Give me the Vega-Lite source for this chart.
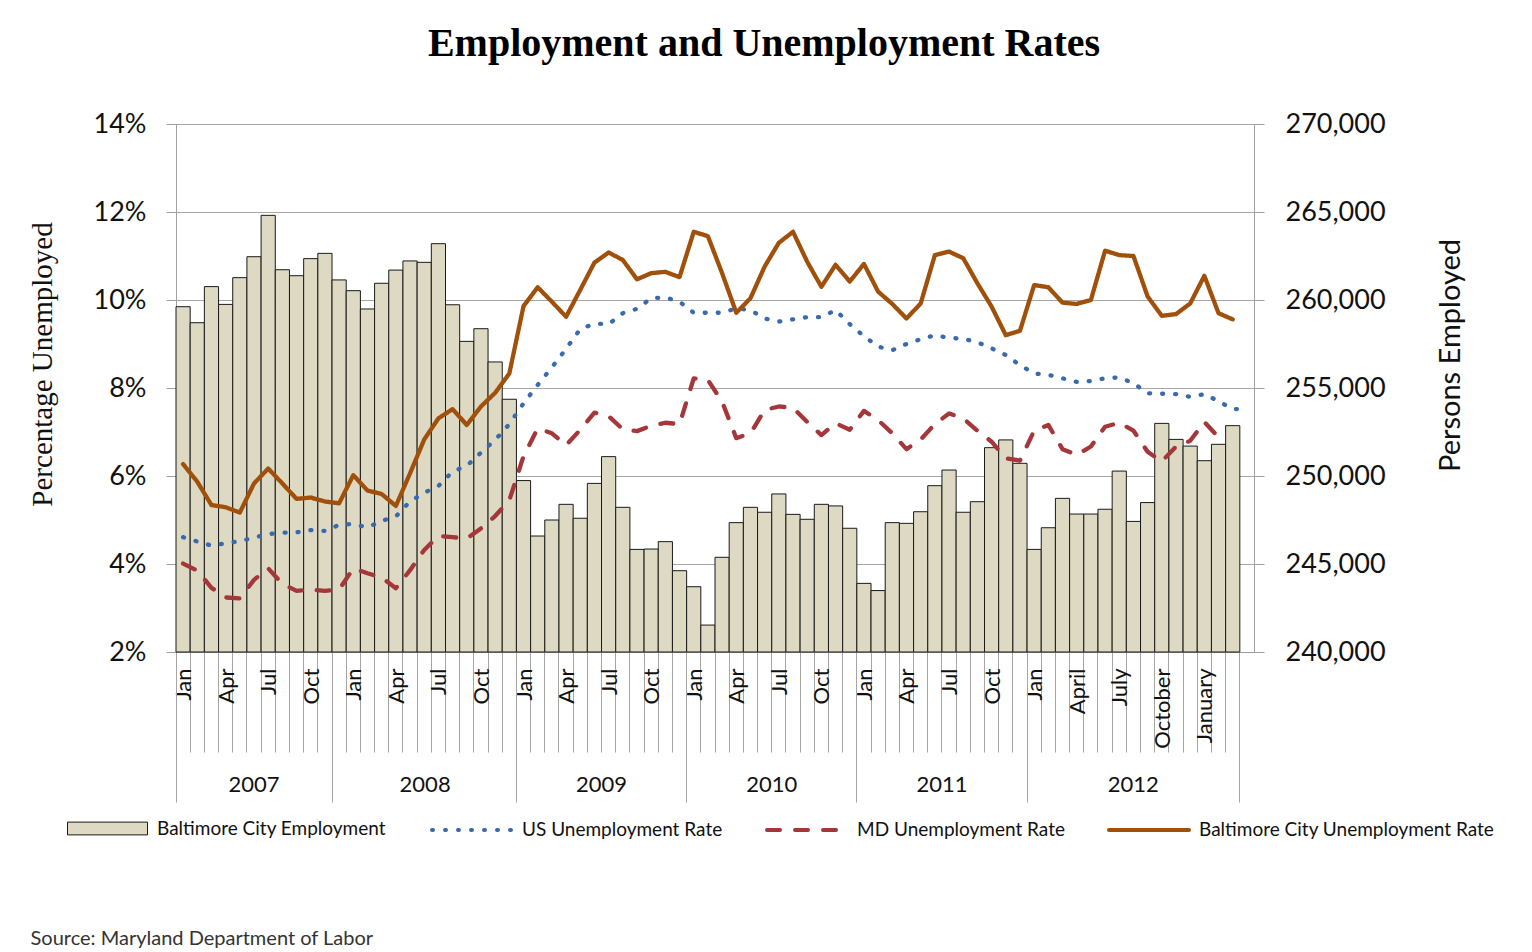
{
  "$schema": "https://vega.github.io/schema/vega-lite/v6.json",
  "width": 1078,
  "height": 528,
  "autosize": {"type": "none"},
  "padding": {"left": 176, "top": 124, "right": 278, "bottom": 300},
  "background": "white",
  "title": {"text": "Employment and Unemployment Rates", "font": "Liberation Serif", "fontSize": 40, "fontWeight": "bold", "color": "#000", "anchor": "middle", "frame": "group", "dx": 49, "offset": 46},
  "config": {"view": {"stroke": null}, "font": "Lato"},
  "data": {"values": [
    {"m":"2007-01","emp":259620,"us":4.61,"md":4.01,"balt":6.27},
    {"m":"2007-02","emp":258710,"us":4.51,"md":3.85,"balt":5.87},
    {"m":"2007-03","emp":260760,"us":4.42,"md":3.46,"balt":5.34},
    {"m":"2007-04","emp":259750,"us":4.47,"md":3.24,"balt":5.29},
    {"m":"2007-05","emp":261270,"us":4.52,"md":3.22,"balt":5.17},
    {"m":"2007-06","emp":262460,"us":4.60,"md":3.64,"balt":5.83},
    {"m":"2007-07","emp":264810,"us":4.68,"md":3.90,"balt":6.17},
    {"m":"2007-08","emp":261720,"us":4.71,"md":3.55,"balt":5.83},
    {"m":"2007-09","emp":261380,"us":4.72,"md":3.39,"balt":5.48},
    {"m":"2007-10","emp":262350,"us":4.77,"md":3.42,"balt":5.51},
    {"m":"2007-11","emp":262650,"us":4.75,"md":3.39,"balt":5.42},
    {"m":"2007-12","emp":261140,"us":4.89,"md":3.42,"balt":5.38},
    {"m":"2008-01","emp":260530,"us":4.91,"md":3.90,"balt":6.02},
    {"m":"2008-02","emp":259490,"us":4.83,"md":3.79,"balt":5.67},
    {"m":"2008-03","emp":260950,"us":4.98,"md":3.69,"balt":5.59},
    {"m":"2008-04","emp":261700,"us":5.08,"md":3.45,"balt":5.32},
    {"m":"2008-05","emp":262220,"us":5.42,"md":3.86,"balt":6.06},
    {"m":"2008-06","emp":262140,"us":5.62,"md":4.32,"balt":6.83},
    {"m":"2008-07","emp":263200,"us":5.77,"md":4.64,"balt":7.31},
    {"m":"2008-08","emp":259730,"us":6.10,"md":4.61,"balt":7.52},
    {"m":"2008-09","emp":257650,"us":6.23,"md":4.58,"balt":7.16},
    {"m":"2008-10","emp":258370,"us":6.53,"md":4.81,"balt":7.58},
    {"m":"2008-11","emp":256480,"us":6.82,"md":5.09,"balt":7.89},
    {"m":"2008-12","emp":254360,"us":7.18,"md":5.45,"balt":8.33},
    {"m":"2009-01","emp":249740,"us":7.65,"md":6.45,"balt":9.86},
    {"m":"2009-02","emp":246590,"us":8.07,"md":7.08,"balt":10.29},
    {"m":"2009-03","emp":247500,"us":8.47,"md":6.97,"balt":9.96},
    {"m":"2009-04","emp":248390,"us":8.89,"md":6.70,"balt":9.62},
    {"m":"2009-05","emp":247600,"us":9.34,"md":7.05,"balt":10.23},
    {"m":"2009-06","emp":249580,"us":9.46,"md":7.44,"balt":10.85},
    {"m":"2009-07","emp":251100,"us":9.45,"md":7.36,"balt":11.08},
    {"m":"2009-08","emp":248220,"us":9.70,"md":7.06,"balt":10.91},
    {"m":"2009-09","emp":245830,"us":9.80,"md":7.02,"balt":10.47},
    {"m":"2009-10","emp":245850,"us":10.04,"md":7.14,"balt":10.61},
    {"m":"2009-11","emp":246270,"us":10.06,"md":7.21,"balt":10.64},
    {"m":"2009-12","emp":244620,"us":9.96,"md":7.18,"balt":10.52},
    {"m":"2010-01","emp":243710,"us":9.71,"md":8.22,"balt":11.55},
    {"m":"2010-02","emp":241530,"us":9.71,"md":8.18,"balt":11.45},
    {"m":"2010-03","emp":245380,"us":9.71,"md":7.69,"balt":10.61},
    {"m":"2010-04","emp":247350,"us":9.81,"md":6.86,"balt":9.71},
    {"m":"2010-05","emp":248220,"us":9.77,"md":6.97,"balt":10.04},
    {"m":"2010-06","emp":247940,"us":9.58,"md":7.50,"balt":10.76},
    {"m":"2010-07","emp":248980,"us":9.51,"md":7.58,"balt":11.30},
    {"m":"2010-08","emp":247820,"us":9.56,"md":7.55,"balt":11.55},
    {"m":"2010-09","emp":247540,"us":9.61,"md":7.23,"balt":10.87},
    {"m":"2010-10","emp":248390,"us":9.61,"md":6.93,"balt":10.30},
    {"m":"2010-11","emp":248300,"us":9.77,"md":7.20,"balt":10.80},
    {"m":"2010-12","emp":247030,"us":9.45,"md":7.05,"balt":10.42},
    {"m":"2011-01","emp":243900,"us":9.18,"md":7.48,"balt":10.82},
    {"m":"2011-02","emp":243490,"us":8.94,"md":7.27,"balt":10.19},
    {"m":"2011-03","emp":247350,"us":8.86,"md":6.97,"balt":9.91},
    {"m":"2011-04","emp":247310,"us":9.00,"md":6.61,"balt":9.58},
    {"m":"2011-05","emp":247970,"us":9.11,"md":6.83,"balt":9.92},
    {"m":"2011-06","emp":249450,"us":9.20,"md":7.18,"balt":11.02},
    {"m":"2011-07","emp":250340,"us":9.14,"md":7.42,"balt":11.10},
    {"m":"2011-08","emp":247940,"us":9.12,"md":7.31,"balt":10.95},
    {"m":"2011-09","emp":248540,"us":9.04,"md":7.03,"balt":10.38},
    {"m":"2011-10","emp":251610,"us":8.90,"md":6.78,"balt":9.85},
    {"m":"2011-11","emp":252050,"us":8.75,"md":6.40,"balt":9.20},
    {"m":"2011-12","emp":250720,"us":8.52,"md":6.35,"balt":9.30},
    {"m":"2012-01","emp":245830,"us":8.33,"md":7.03,"balt":10.34},
    {"m":"2012-02","emp":247060,"us":8.30,"md":7.16,"balt":10.29},
    {"m":"2012-03","emp":248730,"us":8.22,"md":6.61,"balt":9.94},
    {"m":"2012-04","emp":247840,"us":8.14,"md":6.48,"balt":9.91},
    {"m":"2012-05","emp":247840,"us":8.16,"md":6.67,"balt":10.00},
    {"m":"2012-06","emp":248110,"us":8.22,"md":7.12,"balt":11.12},
    {"m":"2012-07","emp":250280,"us":8.24,"md":7.21,"balt":11.02},
    {"m":"2012-08","emp":247420,"us":8.11,"md":7.03,"balt":11.00},
    {"m":"2012-09","emp":248490,"us":7.88,"md":6.55,"balt":10.08},
    {"m":"2012-10","emp":252990,"us":7.87,"md":6.33,"balt":9.64},
    {"m":"2012-11","emp":252080,"us":7.86,"md":6.67,"balt":9.68},
    {"m":"2012-12","emp":251700,"us":7.80,"md":6.80,"balt":9.92},
    {"m":"2013-01","emp":250870,"us":7.86,"md":7.23,"balt":10.55},
    {"m":"2013-02","emp":251800,"us":7.70,"md":6.88,"balt":9.70},
    {"m":"2013-03","emp":252860,"us":7.52,"balt":9.56},
    {"m":"2013-04","us":7.52}
  ]},
  "layer": [
    {
      "transform": [{"filter": "isValid(datum.emp)"}],
      "mark": {"type": "bar", "stroke": "#1a1a1a", "strokeWidth": 1},
      "encoding": {
        "x": {
          "field": "m", "type": "ordinal", "sort": "ascending",
          "scale": {"type": "band", "paddingInner": 0, "paddingOuter": 0},
          "axis": {
            "orient": "bottom", "title": null, "bandPosition": 0, "tickSize": 100,
            "tickColor": "#a6a6a6", "tickWidth": 1, "domainColor": "#9a9a9a",
            "labelAngle": 270, "labelFont": "Lato", "labelFontSize": 22, "labelColor": "#111",
            "labelOffset": 1, "labelPadding": -84, "labelOverlap": false, "grid": false,
            "labelExpr": "(toNumber(slice(datum.value,5,7))-1)%3 != 0 ? '' : (slice(datum.value,0,4)=='2013' ? (slice(datum.value,5,7)=='01' ? 'January' : '') : (slice(datum.value,0,4)=='2012' ? ['Jan','April','July','October'] : ['Jan','Apr','Jul','Oct'])[(toNumber(slice(datum.value,5,7))-1)/3])"
          }
        },
        "y": {
          "field": "emp", "type": "quantitative",
          "scale": {"domain": [240000, 270000], "zero": false, "nice": false},
          "axis": {
            "orient": "right", "values": [240000, 245000, 250000, 255000, 260000, 265000, 270000],
            "labelExpr": "format(datum.value, ',')", "grid": false, "tickSize": 10, "tickColor": "#a0a0a0", "domainColor": "#a0a0a0",
            "labelFont": "Lato", "labelFontSize": 27, "labelColor": "#111", "labelPadding": 21,
            "title": "Persons Employed", "titleFont": "Lato", "titleFontSize": 29, "titleFontWeight": "normal",
            "titleColor": "#111", "titleAngle": 270, "titleX": 196, "titleY": 231, "titleAlign": "center", "titleBaseline": "middle"
          }
        },
        "y2": {"datum": 240000},
        "fill": {
          "datum": "Baltimore City Employment",
          "scale": {"range": ["#DDD9C3"]},
          "legend": {
            "orient": "none", "legendX": -109, "legendY": 664, "title": null,
            "symbolType": "M-1,-0.16H1V0.16H-1Z", "symbolSize": 6400, "symbolStrokeColor": "#1a1a1a", "symbolStrokeWidth": 1,
            "labelFont": "Lato", "labelFontSize": 19, "labelColor": "#111", "labelOffset": 9, "labelLimit": 500, "padding": 0
          }
        }
      }
    },
    {
      "transform": [{"fold": ["us", "md", "balt"], "as": ["s", "r"]}, {"filter": "isValid(datum.r)"}],
      "mark": {"type": "line", "strokeWidth": 4.3, "strokeCap": "round", "strokeJoin": "round"},
      "encoding": {
        "x": {
          "field": "m", "type": "ordinal", "sort": "ascending", "bandPosition": 0.5,
          "axis": {
            "orient": "bottom", "values": ["2007-01", "2007-12", "2009-01", "2010-01", "2011-01", "2012-01", "2013-04"],
            "bandPosition": 0, "tickSize": 150, "tickColor": "#a6a6a6", "tickWidth": 1, "domain": false, "grid": false,
            "labelExpr": "datum.value=='2007-12' ? '2008' : (datum.value=='2013-04' ? '' : slice(datum.value,0,4))",
            "labelFont": "Lato", "labelFontSize": 22, "labelColor": "#111", "labelPadding": -28, "labelAngle": 0, "labelOverlap": false,
            "labelOffset": {"condition": [{"test": "datum.value=='2007-01'", "value": 71}, {"test": "datum.value=='2007-12'", "value": 86}, {"test": "datum.value=='2012-01'", "value": 99}], "value": 78},
            "title": "Source: Maryland Department of Labor", "titleFont": "Lato", "titleFontSize": 20, "titleFontWeight": "normal",
            "titleColor": "#333", "titleAnchor": "start", "titleAlign": "left", "titleBaseline": "middle", "titleX": -146, "titleY": 286
          }
        },
        "y": {
          "field": "r", "type": "quantitative",
          "scale": {"domain": [2, 14], "zero": false, "nice": false},
          "axis": {
            "orient": "left", "values": [2, 4, 6, 8, 10, 12, 14], "labelExpr": "datum.value + '%'",
            "grid": true, "gridColor": "#a6a6a6", "gridWidth": 1, "tickSize": 10, "tickColor": "#a0a0a0", "domainColor": "#a0a0a0",
            "labelFont": "Lato", "labelFontSize": 27, "labelColor": "#111", "labelPadding": 20,
            "title": "Percentage Unemployed", "titleFont": "Liberation Serif", "titleFontSize": 29, "titleFontWeight": "normal",
            "titleColor": "#111", "titleAngle": 270, "titleX": -134, "titleY": 240, "titleAlign": "center", "titleBaseline": "middle"
          }
        },
        "color": {
          "field": "s", "type": "nominal",
          "scale": {"domain": ["us", "md", "balt"], "range": ["#3A6AAE", "#A5373A", "#A0500A"]},
          "legend": {
            "orient": "none", "legendX": 254, "legendY": 664, "title": null, "direction": "horizontal", "columns": 3,
            "symbolType": "stroke", "symbolSize": 6400, "symbolStrokeWidth": 4,
            "labelFont": "Lato", "labelFontSize": 19, "labelColor": "#111", "labelOffset": 8, "labelLimit": 500,
            "columnPadding": 36, "padding": 0,
            "labelExpr": "datum.label=='us' ? 'US Unemployment Rate' : (datum.label=='md' ? 'MD Unemployment Rate' : 'Baltimore City Unemployment Rate')",
            "encode": {"symbols": {"update": {"strokeCap": {"value": "round"}}}}
          }
        },
        "strokeDash": {
          "field": "s", "type": "nominal",
          "scale": {"domain": ["us", "md", "balt"], "range": [[1, 12], [13, 15], [1, 0]]},
          "legend": {
            "orient": "none", "legendX": 254, "legendY": 664, "title": null, "direction": "horizontal", "columns": 3,
            "symbolType": "stroke", "symbolSize": 6400, "symbolStrokeWidth": 4,
            "labelFont": "Lato", "labelFontSize": 19, "labelColor": "#111", "labelOffset": 8, "labelLimit": 500,
            "columnPadding": 36, "padding": 0,
            "labelExpr": "datum.label=='us' ? 'US Unemployment Rate' : (datum.label=='md' ? 'MD Unemployment Rate' : 'Baltimore City Unemployment Rate')",
            "encode": {"symbols": {"update": {"strokeCap": {"value": "round"}}}}
          }
        }
      }
    }
  ],
  "resolve": {"scale": {"y": "independent"}, "axis": {"x": "independent", "y": "independent"}}
}
